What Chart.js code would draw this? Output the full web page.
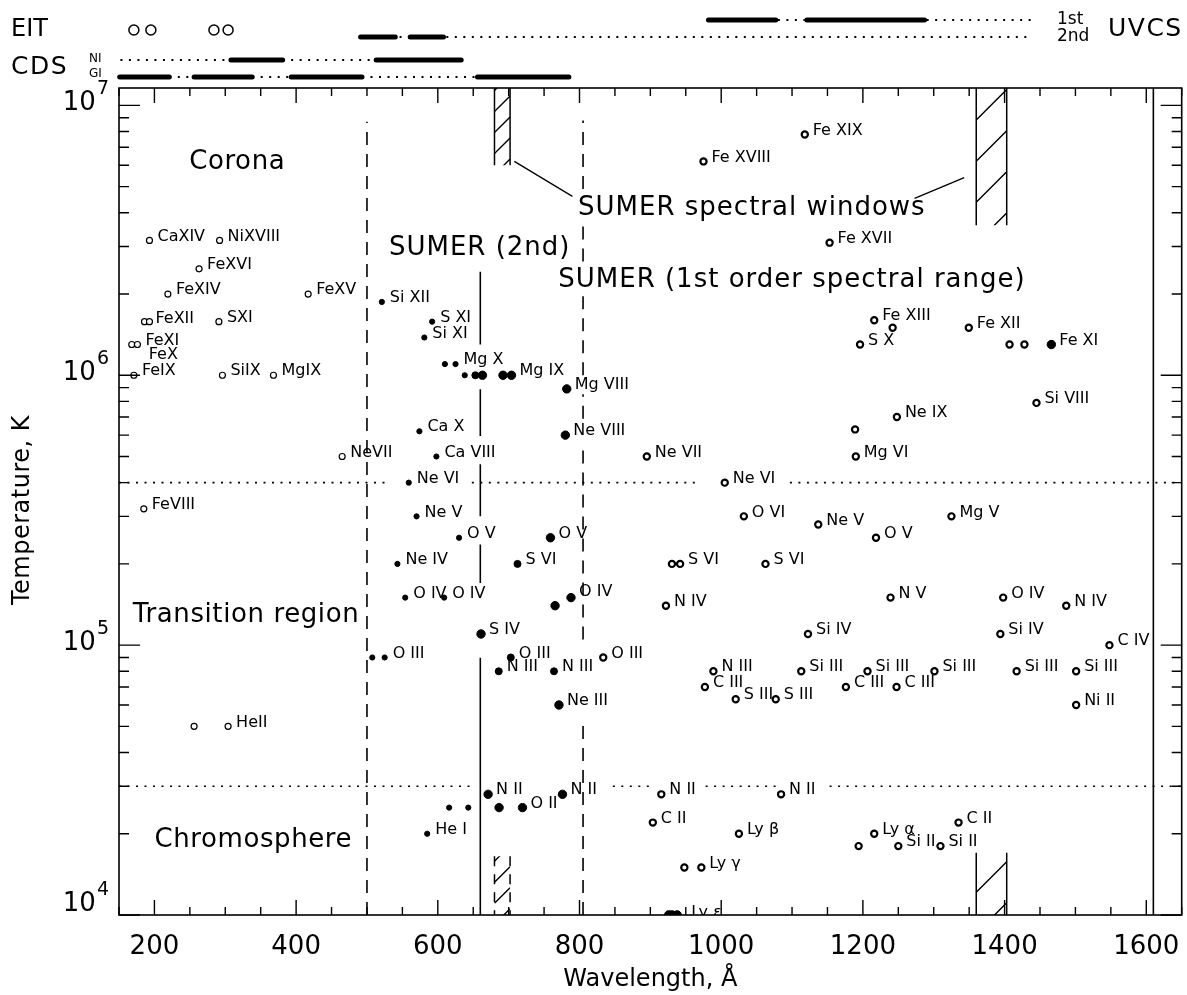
<!DOCTYPE html>
<html><head><meta charset="utf-8">
<script src="https://cdn.jsdelivr.net/npm/chart.js@4.4.1/dist/chart.umd.min.js"></script>
<style>html,body{margin:0;padding:0;background:#fff;}canvas{display:block;}</style>
</head><body>
<canvas id="c" width="1187" height="995"></canvas>
<script>
// ---------------- DATA ----------------
const xMin = 150, xMax = 1650;
const yMin = 1e4, yMax = 1.16e7;
const xMajorTicks = [200, 400, 600, 800, 1000, 1200, 1400, 1600];
const xMinorStep = 50;
const yMajorTicks = [1e4, 1e5, 1e6, 1e7];

// [wavelength (A), temperature (K), label]
const coronalOpen = [
  [193,3.16e6,'CaXIV'],[292,3.16e6,'NiXVIII'],[263,2.48e6,'FeXVI'],[219,2.0e6,'FeXIV'],
  [417,2.0e6,'FeXV'],[186,1.58e6,''],[193,1.58e6,'FeXII'],[291,1.58e6,'SXI'],
  [168,1.3e6,'FeX'],[176,1.3e6,'FeXI'],[171,1.0e6,'FeIX'],[296,1.0e6,'SiIX'],[368,1.0e6,'MgIX'],
  [465,5.0e5,'NeVII'],[185,3.2e5,'FeVIII'],[256,5.0e4,''],[304,5.0e4,'HeII']
];
const sumer2Small = [
  [521,1.87e6,'Si XII'],[592,1.58e6,'S XI'],[581,1.38e6,'Si XI'],[610,1.1e6,''],[625,1.1e6,'Mg X'],
  [638,1.0e6,''],[574,6.2e5,'Ca X'],[598,5.0e5,'Ca VIII'],[559,4.0e5,'Ne VI'],[570,3.0e5,'Ne V'],
  [630,2.5e5,'O V'],[543,2.0e5,'Ne IV'],[554,1.5e5,'O IV'],[609,1.5e5,'O IV'],[507.5,9.0e4,''],
  [525,9.0e4,'O III'],[585,2.0e4,'He I'],[616,2.5e4,''],[643,2.5e4,'']
];
const sumer2Medium = [
  [653,1.0e6,''],[712.5,2.0e5,'S VI'],[703,9.0e4,'O III'],[686,8.0e4,'N III'],[764,8.0e4,'N III']
];
const sumer2Big = [
  [663,1.0e6,''],[692,1.0e6,''],[704,1.0e6,'Mg IX'],[782,8.9e5,'Mg VIII'],[780,6.0e5,'Ne VIII'],
  [759,2.5e5,'O V'],[765.5,1.4e5,''],[788,1.5e5,'O IV'],[661,1.1e5,'S IV'],[771,6.0e4,'Ne III'],
  [671,2.8e4,'N II'],[776,2.8e4,'N II'],[686.5,2.5e4,''],[719.5,2.5e4,'O II'],[1466,1.3e6,'Fe XI']
];
const sumer1Open = [
  [1118,7.8e6,'Fe XIX'],[975,6.2e6,'Fe XVIII'],[1153,3.1e6,'Fe XVII'],[1216,1.6e6,'Fe XIII'],
  [1242,1.5e6,''],[1349.5,1.5e6,'Fe XII'],[1407,1.3e6,''],[1428,1.3e6,''],[1196,1.3e6,'S X'],
  [1445,7.9e5,'Si VIII'],[1248,7.0e5,'Ne IX'],[1189,6.3e5,''],[1190,5.0e5,'Mg VI'],[895,5.0e5,'Ne VII'],
  [1005,4.0e5,'Ne VI'],[1032,3.0e5,'O VI'],[1137,2.8e5,'Ne V'],[1218.5,2.5e5,'O V'],[1325,3.0e5,'Mg V'],
  [930.5,2.0e5,''],[942,2.0e5,'S VI'],[1062.5,2.0e5,'S VI'],[922,1.4e5,'N IV'],[1239,1.5e5,'N V'],
  [1398,1.5e5,'O IV'],[1487,1.4e5,'N IV'],[1122.5,1.1e5,'Si IV'],[1394,1.1e5,'Si IV'],[1548,1.0e5,'C IV'],
  [833.5,9.0e4,'O III'],[989,8.0e4,'N III'],[977,7.0e4,'C III'],[1176,7.0e4,'C III'],[1247.5,7.0e4,'C III'],
  [1020.5,6.3e4,'S III'],[1077,6.3e4,'S III'],[1113,8.0e4,'Si III'],[1206.5,8.0e4,'Si III'],
  [1301,8.0e4,'Si III'],[1417,8.0e4,'Si III'],[1501,8.0e4,'Si III'],[1501,6.0e4,'Ni II'],
  [915.5,2.8e4,'N II'],[1084.5,2.8e4,'N II'],[903.5,2.2e4,'C II'],[1335,2.2e4,'C II'],
  [1025,2.0e4,'Ly β'],[948,1.5e4,''],[972,1.5e4,'Ly γ'],[1216,2.0e4,'Ly α'],
  [1194,1.8e4,''],[1250,1.8e4,'Si II'],[1309.5,1.8e4,'Si II']
];
const lymanEdge = [[926,1e4,''],[930.7,1e4,''],[937.8,1e4,'Ly ε']];

// SUMER range boundaries: [wavelength, [[Tfrom, Tto], ...]]
const sumer2ndBounds = [
  [500, [[1e4, 8.7e6]]],
  [805, [[1e4, 5.3e4],[1.05e5, 5.5e5],[6.9e5, 8.5e5],[1.0e6, 2.0e6],[2.64e6, 3.7e6],[4.9e6, 8.8e6]]]
];
const sumer1stBounds = [
  [660, [[1e4, 8.98e4],[1.70e5, 2.36e5],[3.0e5, 4.68e5],[5.96e5, 8.87e5],[1.3e6, 2.42e6]]],
  [1610, [[1e4, 1.2e7]]]
];
// region boundaries (temperature): [T, [[lamFrom, lamTo], ...]]
const regionBounds = [
  [4.0e5, [[150, 532],[648, 970],[1097, 1650]]],
  [3.0e4, [[150, 654],[847, 906],[978, 1079],[1153, 1650]]]
];
// SUMER spectral windows: [lam1, lam2, Tlow, Thigh, dashedEdges]
const sumerWindows = [
  [680, 702, 6.0e6, 1.2e7, false],
  [1360, 1403, 3.6e6, 1.2e7, false],
  [680, 702, 1e4, 1.65e4, true],
  [1360, 1403, 1e4, 1.7e4, false]
];
const windowLeaders = [
  [[708, 6.2e6], [790, 4.6e6]],
  [[1343, 5.4e6], [1273, 4.52e6]]
];
// Instrument coverage bars: [from, to, kind]
const eitLines = [171, 195, 284, 304];
const uvcs1st = [[982,1077,'s'],[1080,1118,'d'],[1121,1287,'s'],[1290,1437,'d']];
const uvcs2nd = [[491,540,'s'],[546,554,'d'],[561,608,'s'],[612,1437,'d']];
const cdsNIS = [[152,308,'d'],[308,381,'s'],[381,513,'d'],[513,633,'s']];
const cdsGIS = [[151,221,'s'],[221,256,'d'],[256,338,'s'],[338,393,'d'],[393,493,'s'],[493,656,'d'],[656,785,'s']];

// text annotations: [text, lam (left), T (baseline)]
const regionTexts = [['Corona', 249, 5.8e6],['Transition region', 169.5, 1.22e5],['Chromosphere', 200, 1.79e4]];
const sumerTexts = [['SUMER (2nd)', 531, 2.78e6],['SUMER (1st order spectral range)', 770, 2.13e6],['SUMER spectral windows', 798, 3.92e6]];

// ---------------- STYLE ----------------
const FONT = '"DejaVu Sans", "Liberation Sans", sans-serif';
const labelOffsets = { 'FeX': [17, 10], 'FeXII': [6, -3], 'Ly ε': [14, -2], 'O IV@788': [8, -6] };

function pts(arr) { return arr.map(p => ({x: p[0], y: p[1]})); }
function vsegs(list) {
  const out = [];
  list.forEach(([lam, ranges]) => ranges.forEach(([a, b]) => out.push({x: lam, y: a}, {x: lam, y: b}, {x: lam, y: null})));
  return out;
}
function hsegs(list) {
  const out = [];
  list.forEach(([T, ranges]) => ranges.forEach(([a, b]) => out.push({x: a, y: T}, {x: b, y: T}, {x: b, y: null})));
  return out;
}
function leaders(list) {
  const out = [];
  list.forEach(([a, b]) => out.push({x: a[0], y: a[1]}, {x: b[0], y: b[1]}, {x: b[0], y: null}));
  return out;
}
function lineDs(data, dash, width) {
  return {data, showLine: true, pointRadius: 0, borderColor: '#000', borderWidth: width || 1.5,
          borderDash: dash || [], spanGaps: false, fill: false, tension: 0, clip: 0};
}
function pointDs(arr, r, filled, bw) {
  return {data: pts(arr), showLine: false, pointRadius: r, pointHoverRadius: r,
          pointBackgroundColor: filled ? '#000' : '#fff', pointBorderColor: '#000',
          pointBorderWidth: bw, pointLabels: arr.map(p => p[2])};
}

const datasets = [
  lineDs(vsegs(sumer2ndBounds), [13, 9], 1.6),
  lineDs(vsegs(sumer1stBounds), [], 1.6),
  lineDs(hsegs(regionBounds), [2, 6.5], 1.6),
  lineDs(leaders(windowLeaders), [], 1.3),
  pointDs(coronalOpen, 3.0, false, 1.2),
  pointDs(sumer2Small, 2.6, true, 1),
  pointDs(sumer2Medium, 3.5, true, 1),
  pointDs(sumer2Big, 4.2, true, 1),
  pointDs(sumer1Open, 3.1, false, 2.2),
  Object.assign(pointDs(lymanEdge, 4.3, true, 1), {clip: 0})
];

function drawWindow(ctx, xs, ys, ca, w) {
  const [l1, l2, t1, t2, dashed] = w;
  const x1 = xs.getPixelForValue(l1), x2 = xs.getPixelForValue(l2);
  const yTop = Math.max(ca.top, ys.getPixelForValue(t2));
  const yBot = Math.min(ca.bottom, ys.getPixelForValue(t1));
  const wd = x2 - x1, gap = wd * 1.35;
  ctx.save();
  ctx.beginPath(); ctx.rect(x1, yTop, wd, yBot - yTop); ctx.clip();
  ctx.beginPath();
  for (let c = yBot + wd * 0.6; c > yTop - wd; c -= gap) { ctx.moveTo(x1, c); ctx.lineTo(x2, c - wd); }
  ctx.lineWidth = 1.4; ctx.stroke();
  ctx.restore();
  ctx.save();
  ctx.lineWidth = 1.5;
  if (dashed) ctx.setLineDash([10, 8]);
  ctx.beginPath(); ctx.moveTo(x1, yTop); ctx.lineTo(x1, yBot); ctx.moveTo(x2, yTop); ctx.lineTo(x2, yBot); ctx.stroke();
  ctx.restore();
}
function drawBar(ctx, xs, segs, y) {
  segs.forEach(([a, b, k]) => {
    const x1 = xs.getPixelForValue(a), x2 = xs.getPixelForValue(b);
    ctx.save();
    ctx.beginPath();
    if (k === 's') { ctx.lineWidth = 5; ctx.lineCap = 'round'; }
    else { ctx.lineWidth = 2; ctx.setLineDash([2, 6.5]); }
    ctx.moveTo(x1, y); ctx.lineTo(x2, y); ctx.stroke();
    ctx.restore();
  });
}
function spacedText(ctx, txt, x, y, sp) {
  try { ctx.letterSpacing = sp + 'px'; } catch (e) {}
  ctx.fillText(txt, x, y);
  try { ctx.letterSpacing = '0px'; } catch (e) {}
}

const customPlugin = {
  id: 'custom',
  beforeDatasetsDraw(chart) {
    const {ctx, chartArea: ca} = chart; const xs = chart.scales.x, ys = chart.scales.y;
    ctx.save(); ctx.strokeStyle = '#000';
    sumerWindows.forEach(w => drawWindow(ctx, xs, ys, ca, w));
    ctx.restore();
  },
  afterDatasetsDraw(chart) {
    const {ctx, chartArea: ca} = chart; const xs = chart.scales.x, ys = chart.scales.y;
    ctx.save();
    ctx.fillStyle = '#000'; ctx.strokeStyle = '#000';
    // point labels
    ctx.save();
    ctx.beginPath(); ctx.rect(ca.left, ca.top, ca.right - ca.left, ca.bottom - ca.top); ctx.clip();
    ctx.font = '16px ' + FONT; ctx.textAlign = 'left'; ctx.textBaseline = 'middle';
    chart.data.datasets.forEach((ds, i) => {
      if (!ds.pointLabels) return;
      const meta = chart.getDatasetMeta(i);
      ds.pointLabels.forEach((t, j) => {
        if (!t) return;
        const el = meta.data[j];
        const off = labelOffsets[t + '@' + ds.data[j].x] || labelOffsets[t] || [8, -4];
        ctx.fillText(t, el.x + off[0], el.y + off[1]);
      });
    });
    ctx.restore();
    // region & SUMER texts
    ctx.textAlign = 'left'; ctx.textBaseline = 'alphabetic';
    ctx.font = '26px ' + FONT;
    regionTexts.forEach(([t, l, T]) => spacedText(ctx, t, xs.getPixelForValue(l), ys.getPixelForValue(T), 0.6));
    ctx.font = '26px ' + FONT;
    sumerTexts.forEach(([t, l, T]) => spacedText(ctx, t, xs.getPixelForValue(l), ys.getPixelForValue(T), 1));
    // frame
    ctx.lineWidth = 1.6;
    ctx.strokeRect(ca.left, ca.top, ca.right - ca.left, ca.bottom - ca.top);
    // x ticks (inward, bottom & top)
    ctx.lineWidth = 1.4;
    ctx.beginPath();
    for (let v = Math.ceil(xMin / xMinorStep) * xMinorStep; v <= xMax; v += xMinorStep) {
      const x = xs.getPixelForValue(v);
      const len = xMajorTicks.includes(v) ? 15 : 8;
      ctx.moveTo(x, ca.bottom); ctx.lineTo(x, ca.bottom - len);
      ctx.moveTo(x, ca.top); ctx.lineTo(x, ca.top + len);
    }
    // y ticks (inward, left & right)
    for (let d = 0; d < yMajorTicks.length; d++) {
      for (let m = 1; m <= 9; m++) {
        const v = yMajorTicks[d] * m;
        if (v < yMin || v > yMax) continue;
        const y = ys.getPixelForValue(v);
        const len = m === 1 ? 21 : 10;
        ctx.moveTo(ca.left, y); ctx.lineTo(ca.left + len, y);
        ctx.moveTo(ca.right, y); ctx.lineTo(ca.right - len, y);
      }
    }
    ctx.stroke();
    // x tick labels
    ctx.font = '26px ' + FONT; ctx.textAlign = 'center'; ctx.textBaseline = 'middle';
    xMajorTicks.forEach(v => ctx.fillText(String(v), xs.getPixelForValue(v), 947));
    // y tick labels 10^n
    yMajorTicks.forEach(v => {
      const n = Math.round(Math.log10(v));
      const y = ys.getPixelForValue(v) + (n === 4 ? -11 : -2);
      ctx.font = '19px ' + FONT;
      const sw = ctx.measureText(String(n)).width;
      ctx.textAlign = 'right';
      ctx.fillText(String(n), 109, y - 14);
      ctx.font = '26px ' + FONT;
      ctx.fillText('10', 108 - sw, y);
    });
    // axis titles
    ctx.font = '24px ' + FONT; ctx.textAlign = 'center'; ctx.textBaseline = 'alphabetic';
    ctx.fillText('Wavelength, Å', (ca.left + ca.right) / 2, 986);
    ctx.save(); ctx.translate(29, 510); ctx.rotate(-Math.PI / 2);
    spacedText(ctx, 'Temperature, K', 0, 0, 0.5); ctx.restore();
    // instrument coverage bars above the plot
    drawBar(ctx, xs, uvcs1st, 20);
    drawBar(ctx, xs, uvcs2nd, 37);
    drawBar(ctx, xs, cdsNIS, 60);
    drawBar(ctx, xs, cdsGIS, 77);
    ctx.lineWidth = 1.5;
    eitLines.forEach(l => { ctx.beginPath(); ctx.arc(xs.getPixelForValue(l), 30, 5, 0, Math.PI * 2); ctx.stroke(); });
    ctx.textAlign = 'left'; ctx.textBaseline = 'middle';
    ctx.font = '24px ' + FONT;
    ctx.fillText('EIT', 11, 30);
    ctx.font = '25px ' + FONT;
    spacedText(ctx, 'CDS', 11, 67, 1.5);
    spacedText(ctx, 'UVCS', 1108, 29, 1.5);
    ctx.font = '12px ' + FONT;
    ctx.fillText('NI', 89, 59);
    ctx.fillText('GI', 89, 74);
    ctx.font = '17px ' + FONT;
    ctx.fillText('1st', 1057, 20);
    ctx.fillText('2nd', 1057, 37);
    ctx.restore();
  }
};

new Chart(document.getElementById('c').getContext('2d'), {
  type: 'scatter',
  data: { datasets },
  options: {
    responsive: false, animation: false, devicePixelRatio: 1, events: [],
    layout: { padding: { left: 119, right: 1, top: 88, bottom: 80 } },
    plugins: { legend: { display: false }, tooltip: { enabled: false } },
    scales: {
      x: { type: 'linear', display: false, min: xMin, max: xMax },
      y: { type: 'logarithmic', display: false, min: yMin, max: yMax }
    }
  },
  plugins: [customPlugin]
});
</script>
</body></html>
